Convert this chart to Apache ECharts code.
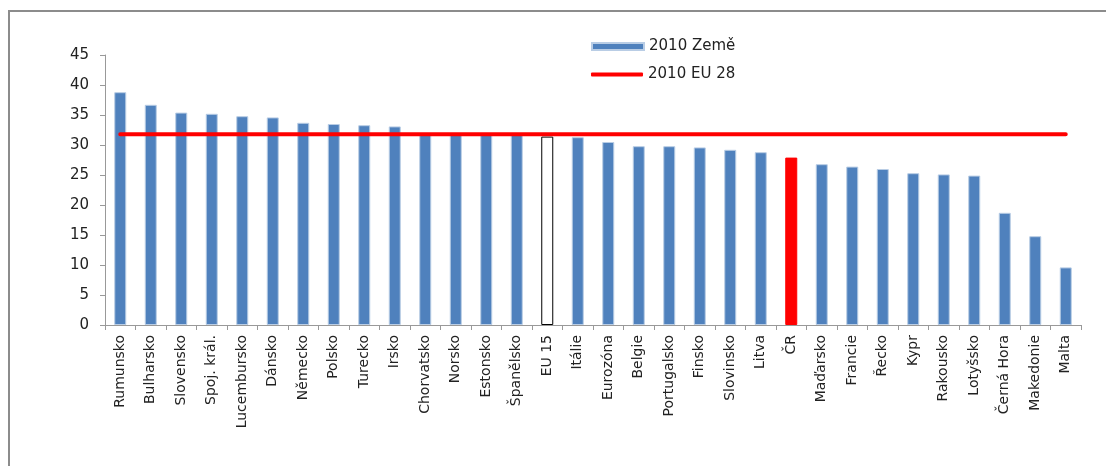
<!DOCTYPE html>
<html>
<head>
<meta charset="utf-8">
<script src="https://cdn.jsdelivr.net/npm/echarts@6/dist/echarts.min.js"></script>
<style>
   html, body { margin: 0; padding: 0; background: #fff; }
   #chart { width: 1106px; height: 466px; }
</style>
</head>
<body>
<div id="chart"></div>
<script>

// categories along x axis
const countries = [
   'Rumunsko', 'Bulharsko', 'Slovensko', 'Spoj. král.', 'Lucembursko', 'Dánsko',
   'Německo', 'Polsko', 'Turecko', 'Irsko', 'Chorvatsko', 'Norsko', 'Estonsko',
   'Španělsko', 'EU 15', 'Itálie', 'Eurozóna', 'Belgie', 'Portugalsko', 'Finsko',
   'Slovinsko', 'Litva', 'ČR', 'Maďarsko', 'Francie', 'Řecko', 'Kypr', 'Rakousko',
   'Lotyšsko', 'Černá Hora', 'Makedonie', 'Malta'
];

// 2010 values per country
const values2010 = [
   38.8, 36.7, 35.4, 35.2, 34.8, 34.6,
   33.7, 33.5, 33.3, 33.1, 32.0, 31.9, 31.8,
   31.7, 31.4, 31.3, 30.5, 29.8, 29.8, 29.6,
   29.2, 28.8, 27.9, 26.8, 26.4, 26.0, 25.3, 25.1,
   24.9, 18.7, 14.8, 9.6
];

// EU 28 average, one value per category
const eu28 = [
   31.8, 31.8, 31.8, 31.8, 31.8, 31.8,
   31.8, 31.8, 31.8, 31.8, 31.8, 31.8, 31.8,
   31.8, 31.8, 31.8, 31.8, 31.8, 31.8, 31.8,
   31.8, 31.8, 31.8, 31.8, 31.8, 31.8, 31.8, 31.8,
   31.8, 31.8, 31.8, 31.8
];

const yTicks = { min: 0, max: 45, step: 5 };

const barBlue = '#4F81BD';

// special coloured bars
const barData = values2010.map((v, idx) =>
{
   const name = countries[idx];
   if (name === 'ČR')
      return { value: v, itemStyle: { color: '#FF0000', borderColor: '#FF0000' } };
   if (name === 'EU 15')
      return { value: v, itemStyle: { color: '#FFFFFF', borderColor: '#000000', borderWidth: 1 } };
   return v;
});

const chart = echarts.init(document.getElementById('chart'));

const fontFam = '"DejaVu Sans", "Liberation Sans", Arial, sans-serif';

chart.setOption(
{
   animation: false,
   textStyle: { fontFamily: fontFam },
   graphic: [
      {
         // frame around chart (only top and left visible)
         type: 'rect',
         shape: { x: 9, y: 11, width: 1200, height: 600 },
         style: { fill: 'none', stroke: '#8c8c8c', lineWidth: 2 },
         silent: true
      }
   ],
   legend: [
      {
         data: [{ name: '2010 Země', icon: 'rect' }],
         left: 591,
         top: 39,
         padding: 0,
         itemWidth: 52,
         itemHeight: 7,
         itemGap: 4,
         textStyle: { fontSize: 15, color: '#222', fontFamily: fontFam }
      },
      {
         data: [{ name: '2010 EU 28', icon: 'roundRect' }],
         left: 591,
         top: 67,
         padding: 0,
         itemWidth: 52,
         itemHeight: 4,
         textStyle: { fontSize: 15, color: '#222', fontFamily: fontFam }
      }
   ],
   grid:
   {
      left: 105,
      right: 25,
      top: 55,
      bottom: 141,
      containLabel: false
   },
   xAxis:
   {
      type: 'category',
      data: countries,
      boundaryGap: true,
      axisLine: { lineStyle: { color: '#999999', width: 1 } },
      axisTick: { show: true, alignWithLabel: false, length: 5, lineStyle: { color: '#999999' } },
      axisLabel:
      {
         rotate: 90,
         interval: 0,
         margin: 10,
         fontSize: 14,
         color: '#222',
         fontFamily: fontFam
      }
   },
   yAxis:
   {
      type: 'value',
      min: yTicks.min,
      max: yTicks.max,
      interval: yTicks.step,
      splitLine: { show: false },
      axisLine: { show: true, lineStyle: { color: '#999999', width: 1 } },
      axisTick: { show: true, length: 5, lineStyle: { color: '#999999' } },
      axisLabel: { fontSize: 15, color: '#222', margin: 16, fontFamily: fontFam }
   },
   series: [
      {
         name: '2010 Země',
         type: 'bar',
         data: barData,
         barWidth: 12,
         itemStyle: { color: barBlue, borderColor: '#B9CDE5', borderWidth: 1 },
         z: 2
      },
      {
         name: '2010 EU 28',
         type: 'line',
         data: eu28,
         symbol: 'none',
         itemStyle: { color: '#FF0000' },
         lineStyle: { color: '#FF0000', width: 4, cap: 'round' },
         z: 3
      }
   ]
});

</script>
</body>
</html>
